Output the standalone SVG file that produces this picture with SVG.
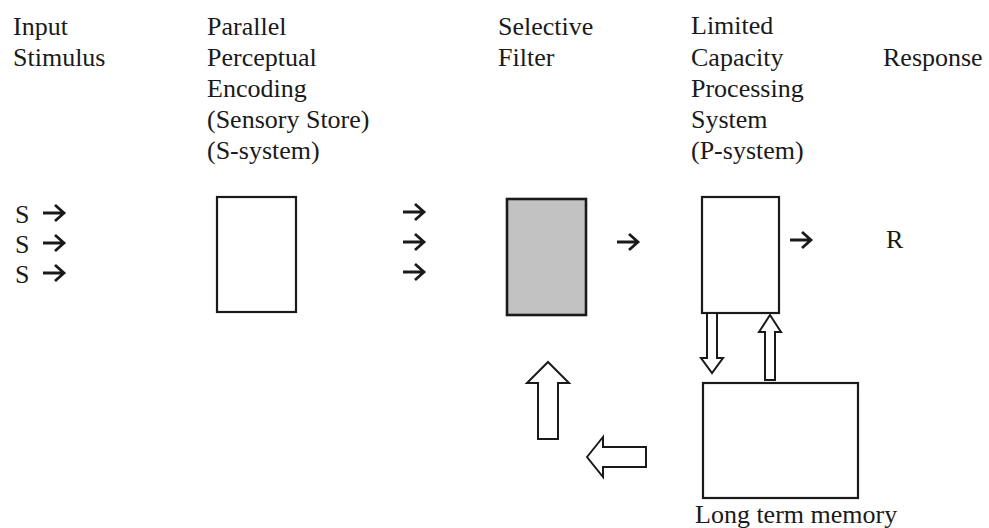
<svg xmlns="http://www.w3.org/2000/svg" width="989" height="528" viewBox="0 0 989 528" font-family="'Liberation Serif','Times New Roman',serif">
<style>
text{font-family:"Liberation Serif","Times New Roman",serif;font-size:26px;fill:#1a1a1a}
.box{fill:#fff;stroke:#1a1a1a;stroke-width:2.2}
.grey{fill:#c2c2c2;stroke:#1a1a1a;stroke-width:2.6}
.arr{fill:none;stroke:#1a1a1a;stroke-width:2.8;stroke-linejoin:miter}
.hollow{fill:#fff;stroke:#1a1a1a;stroke-width:2;stroke-linejoin:miter}
</style>
<rect width="989" height="528" fill="#fff"/>
<g id="label-input">
<text x="13" y="35">Input</text>
<text x="13" y="66">Stimulus</text>
</g>
<g id="label-parallel">
<text x="207" y="35">Parallel</text>
<text x="207" y="66">Perceptual</text>
<text x="207" y="97">Encoding</text>
<text x="207" y="128">(Sensory Store)</text>
<text x="207" y="159">(S-system)</text>
</g>
<g id="label-filter">
<text x="498" y="35">Selective</text>
<text x="498" y="66">Filter</text>
</g>
<g id="label-limited">
<text x="691" y="34">Limited</text>
<text x="691" y="66">Capacity</text>
<text x="691" y="97">Processing</text>
<text x="691" y="128">System</text>
<text x="691" y="159">(P-system)</text>
</g>
<g id="label-response">
<text x="883" y="66">Response</text>
</g>
<g id="stimuli">
<text x="15" y="223">S</text>
<text x="15" y="253">S</text>
<text x="15" y="283">S</text>
</g>
<g id="s-system"><rect class="box" x="217" y="197" width="79" height="115"/></g>
<g id="selective-filter"><rect class="grey" x="507" y="199" width="79" height="116"/></g>
<g id="p-system"><rect class="box" x="702" y="197" width="77" height="116"/></g>
<g id="long-term-memory">
<rect class="box" x="703" y="383" width="155" height="115"/>
<text x="695" y="523">Long term memory</text>
</g>
<g id="response"><text x="886" y="248">R</text></g>
<g id="connectors">
<path class="arr" d="M43,213H64M55,205L64,213L55,221"/>
<path class="arr" d="M43,243H64M55,235L64,243L55,251"/>
<path class="arr" d="M43,273H64M55,265L64,273L55,281"/>
<path class="arr" d="M403,212H424M415,204L424,212L415,220"/>
<path class="arr" d="M403,242H424M415,234L424,242L415,250"/>
<path class="arr" d="M403,272H424M415,264L424,272L415,280"/>
<path class="arr" d="M617,242H638M629,234L638,242L629,250"/>
<path class="arr" d="M790,240H811M802,232L811,240L802,248"/>
<polygon class="hollow" points="707,313 717,313 717,358 723,358 712,373 701,358 707,358"/>
<polygon class="hollow" points="770,315 781,332 775,332 775,380 765,380 765,332 759,332"/>
<polygon class="hollow" points="548,362 569,383 558,383 558,439 538,439 538,383 527,383"/>
<polygon class="hollow" points="587,457 603,437 603,447 646,447 646,467 603,467 603,477"/>
</g>
</svg>
